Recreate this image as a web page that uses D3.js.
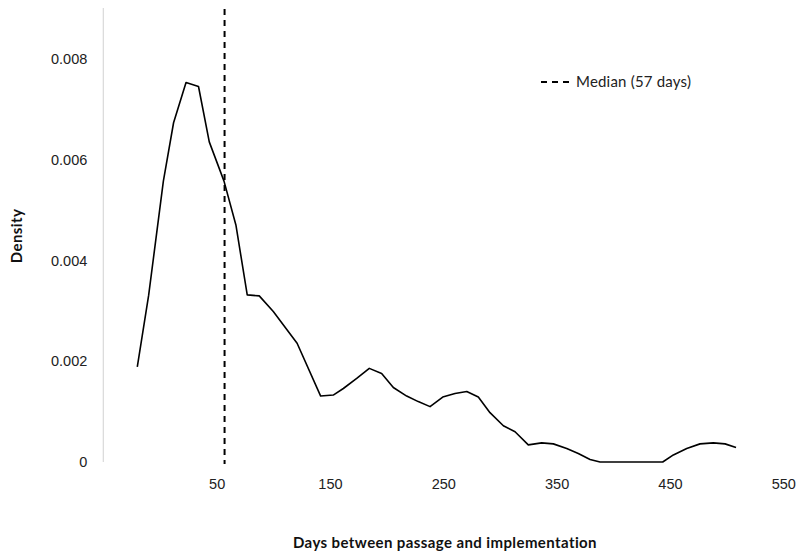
<!DOCTYPE html>
<html>
<head>
<meta charset="utf-8">
<script src="https://cdn.jsdelivr.net/npm/d3@7"></script>
<style>
  body { margin: 0; background: #fff; }
  svg { display: block; font-family: Lato, "Open Sans", sans-serif; }
  .tick-label { font-size: 14.5px; fill: #222; }
  .legend-label { font-size: 15px; fill: #222; letter-spacing: 0.2px; }
  .axis-title { font-size: 15px; font-weight: bold; fill: #111; letter-spacing: 0.4px; }
</style>
</head>
<body>
<div id="chart"></div>
<script>
//density curve (days between passage and implementation)
var days = [-20, -10, 3, 12, 23, 34, 43.5, 56.5, 67, 77, 87.6, 100, 121,
  141.8, 152.9, 161.8, 173.6, 184.7, 195.6, 205.9, 217.7, 227.9, 238.3,
  249.5, 260.3, 270.7, 280.9, 291.2, 303, 313.3, 325, 336.8, 347.1, 358.9,
  369.1, 379.5, 388.3, 399, 410, 421, 432, 443.6, 453, 464.8, 476.5, 488.2,
  498.6, 508.3];
var density = [0.00189, 0.00331, 0.00558, 0.00674, 0.00754, 0.00746, 0.00636,
  0.00558, 0.00471, 0.00332, 0.00330, 0.00299, 0.00236,
  0.00131, 0.00133, 0.00146, 0.00166, 0.00186, 0.00176, 0.00148, 0.00131,
  0.00120, 0.00110, 0.00129, 0.00136, 0.00140, 0.00129, 0.00098, 0.00072,
  0.00060, 0.00034, 0.00038, 0.00036, 0.00027, 0.00017, 0.00005, 0,
  0, 0, 0, 0, 0, 0.00014, 0.00027, 0.00036, 0.00038, 0.00036, 0.00029];

//axis ticks
var xTicks = [50, 150, 250, 350, 450, 550];
var yTicks = [0, 0.002, 0.004, 0.006, 0.008];
var yTickLabels = ['0', '0.002', '0.004', '0.006', '0.008'];

//median marker
var medianDays = 57;
var legendLabel = 'Median (57 days)';
var xTitle = 'Days between passage and implementation';
var yTitle = 'Density';

var width = 799, height = 554;
var plot = {left: 103.3, right: 783.3, top: 9, bottom: 462};

var svg = d3.select('#chart').append('svg')
  .attr('width', width)
  .attr('height', height);

//scales
var x = d3.scaleLinear().domain([-50, 550]).range([plot.left, plot.right]);
var y = d3.scaleLinear().domain([0, 0.009]).range([plot.bottom, plot.top]);

//y axis line
svg.append('line')
  .attr('x1', plot.left).attr('x2', plot.left)
  .attr('y1', plot.top - 1).attr('y2', plot.bottom)
  .attr('stroke', '#d9d9d9')
  .attr('stroke-width', 1.2);

//y tick labels
var yAxis = d3.axisLeft(y)
  .tickValues(yTicks)
  .tickSize(0)
  .tickPadding(16)
  .tickFormat(function(d, i) { return yTickLabels[i]; });
var gy = svg.append('g')
  .attr('transform', 'translate(' + plot.left + ',0)')
  .call(yAxis);
gy.select('.domain').remove();
gy.selectAll('text')
  .attr('class', 'tick-label')
  .attr('font-family', null)
  .attr('font-size', null)
  .attr('fill', null);

//x tick labels
var xAxis = d3.axisBottom(x)
  .tickValues(xTicks)
  .tickSize(0)
  .tickPadding(17)
  .tickFormat(d3.format('d'));
var gx = svg.append('g')
  .attr('transform', 'translate(0,' + plot.bottom + ')')
  .call(xAxis);
gx.select('.domain').remove();
gx.selectAll('text')
  .attr('class', 'tick-label')
  .attr('font-family', null)
  .attr('font-size', null)
  .attr('fill', null);

//density line
var pts = days.map(function(d, i) { return [d, density[i]]; });
var line = d3.line()
  .x(function(d) { return x(d[0]); })
  .y(function(d) { return y(d[1]); });
svg.append('path')
  .datum(pts)
  .attr('d', line)
  .attr('fill', 'none')
  .attr('stroke', '#000')
  .attr('stroke-width', 1.6)
  .attr('stroke-linejoin', 'round');

//median line
svg.append('line')
  .attr('x1', x(medianDays)).attr('x2', x(medianDays))
  .attr('y1', y(0.009)).attr('y2', y(0) + 2)
  .attr('stroke', '#000')
  .attr('stroke-width', 2)
  .attr('stroke-dasharray', '6,5');

//legend
svg.append('line')
  .attr('x1', 541).attr('x2', 573)
  .attr('y1', 82).attr('y2', 82)
  .attr('stroke', '#000')
  .attr('stroke-width', 2)
  .attr('stroke-dasharray', '6,5');
svg.append('text')
  .attr('class', 'legend-label')
  .attr('x', 576)
  .attr('y', 87)
  .text(legendLabel);

//axis titles
svg.append('text')
  .attr('class', 'axis-title')
  .attr('x', 445)
  .attr('y', 548)
  .attr('text-anchor', 'middle')
  .text(xTitle);
svg.append('text')
  .attr('class', 'axis-title')
  .attr('transform', 'translate(22,236) rotate(-90)')
  .attr('text-anchor', 'middle')
  .text(yTitle);
</script>
</body>
</html>
